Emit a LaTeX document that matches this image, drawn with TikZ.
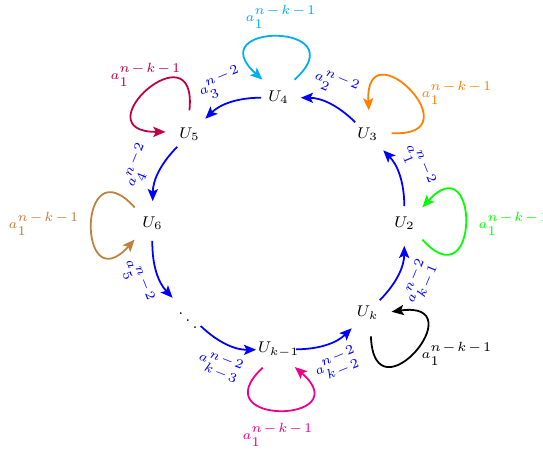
\documentclass[tikz,border=0pt]{standalone}
\usetikzlibrary{arrows.meta,calc}
\definecolor{loopcyan}{RGB}{0,174,239}
\definecolor{loopcrimson}{RGB}{191,0,64}
\definecolor{looporange}{RGB}{255,128,0}
\definecolor{loopgreen}{RGB}{0,255,0}
\definecolor{loopbrown}{RGB}{191,128,64}
\definecolor{loopmagenta}{RGB}{236,0,140}
\newcommand\lbl[2]{\medmuskip=2mu$a_{\mbox{$#1$}}^{\mbox{$#2$}}$}
\newcommand\selfloop[3]{%
  \draw[loopline,#3] ([shift={(#2-42:24)}]#1.center) .. controls +(#2-48:86) and +(#2+48:86) .. ([shift={(#2+42:24)}]#1.center);}
\begin{document}
\begin{tikzpicture}[x=0.45pt,y=0.45pt,
  vtx/.style={circle, minimum size=15.3pt, inner sep=0pt, font=\scriptsize},
  arc/.style={blue, line width=0.8pt, -{Stealth[length=5.5pt,width=4.6pt,inset=1.2pt]}, shorten >=2.2pt, bend right=22},
  elab/.style={font=\fontsize{6}{7}\selectfont, text=blue, sloped, auto=right, inner sep=4.2pt},
  elabf/.style={elab, auto=left},
  loopline/.style={line width=0.8pt, -{Stealth[length=5.5pt,width=4.6pt,inset=1.2pt]}},
  llab/.style={font=\fontsize{6}{7}\selectfont, inner sep=0pt}]
\useasboundingbox (0,0) rectangle (543,-453);
\coordinate (C) at (278.5,-223.5);
\node[vtx] (U4) at ($(C)+(90:126)$) {\makebox[0pt]{$U_4$}};
\node[vtx] (U3) at ($(C)+(45:126)$) {\makebox[0pt]{$U_3$}};
\node[vtx] (U2) at ($(C)+(0:126)$) {\makebox[0pt]{$U_2$}};
\node[vtx] (Uk) at ($(C)+(-45:126)$) {\makebox[0pt]{$U_k$}};
\node[vtx] (Ukm) at ($(C)+(-90:126)$) {\makebox[0pt]{$U_{k-1}$}};
\node[vtx] (D) at ($(C)+(-135:128)$) {\makebox[0pt]{$\ddots$}};
\node[vtx] (U6) at ($(C)+(180:126)$) {\makebox[0pt]{$U_6$}};
\node[vtx] (U5) at ($(C)+(135:126)$) {\makebox[0pt]{$U_5$}};
% circular edges
\draw[arc] (Ukm) to node[elab]{\lbl{k-2}{n-2}} (Uk);
\draw[arc] (Uk) to node[elab]{\lbl{k-1}{n-2}} (U2);
\draw[arc] (U2) to node[elabf]{\lbl{1}{n-2}} (U3);
\draw[arc] (U3) to node[elabf]{\lbl{2}{n-2}} (U4);
\draw[arc] (U4) to node[elabf]{\lbl{3}{n-2}} (U5);
\draw[arc] (U5) to node[elabf]{\lbl{4}{n-2}} (U6);
\draw[arc] (U6) to node[elab]{\lbl{5}{n-2}} (D);
\draw[arc] (D) to node[elab]{\lbl{k-3}{n-2}} (Ukm);
% self loops
\selfloop{U4}{90}{loopcyan}
\selfloop{U5}{132}{loopcrimson}
\selfloop{U6}{180}{loopbrown}
\selfloop{U3}{45}{looporange}
\selfloop{U2}{0}{loopgreen}
\selfloop{Uk}{-40}{black}
\selfloop{Ukm}{271}{loopmagenta}
% loop labels
\node[llab, text=loopcyan] (L4) at (281,-17) {\lbl{1}{n-k-1}};
\node[llab, text=loopcrimson] (L5) at (146,-75) {\lbl{1}{n-k-1}};
\node[llab, text=loopbrown] (L6) at (44,-224) {\lbl{1}{n-k-1}};
\node[llab, text=looporange] (L3) at (457,-93) {\lbl{1}{n-k-1}};
\node[llab, text=loopgreen] (L2) at (514,-224) {\lbl{1}{n-k-1}};
\node[llab, text=black] (Lk) at (457,-354) {\lbl{1}{n-k-1}};
\node[llab, text=loopmagenta] (Lkm) at (278,-435) {\lbl{1}{n-k-1}};
\end{tikzpicture}
\end{document}
